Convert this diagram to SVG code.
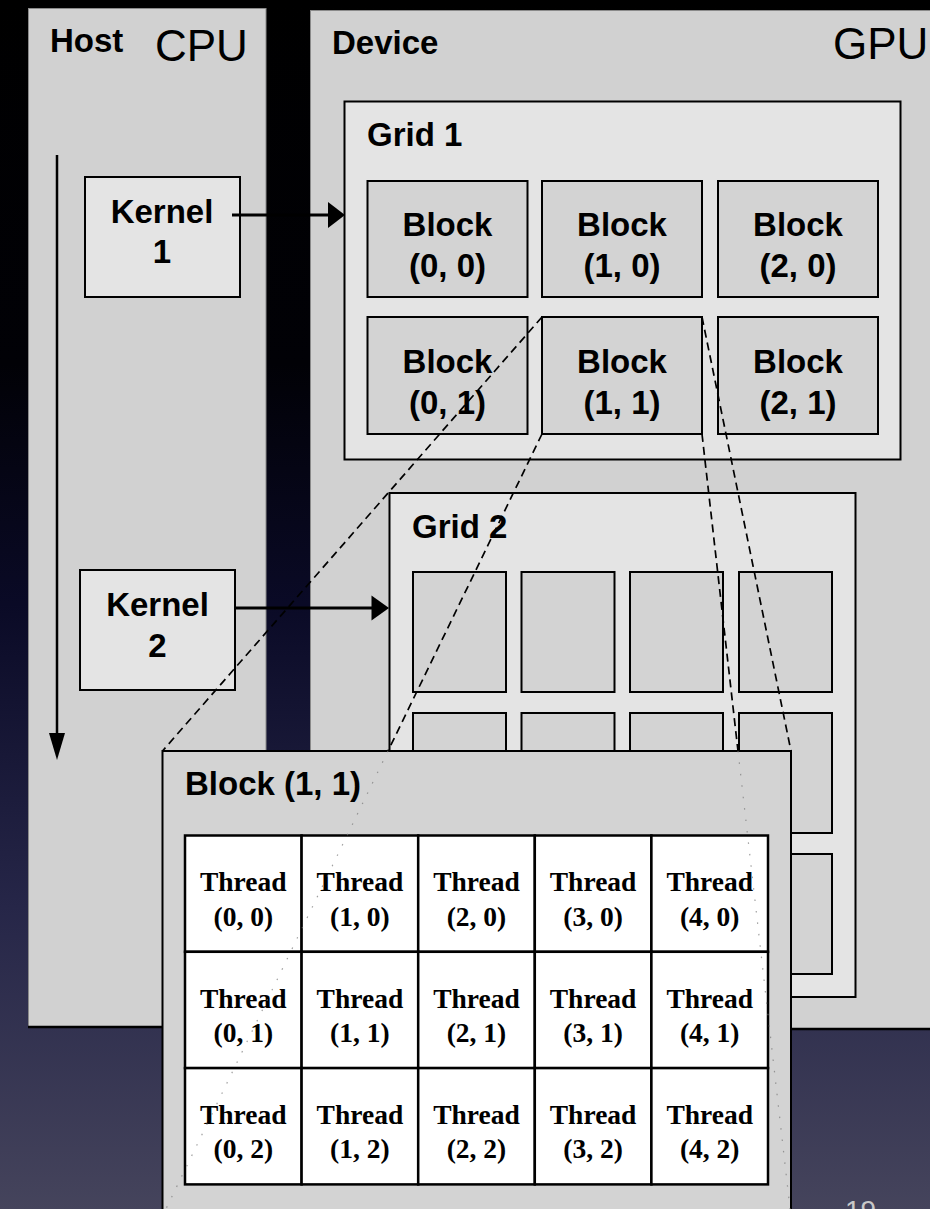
<svg xmlns="http://www.w3.org/2000/svg" width="930" height="1209" viewBox="0 0 930 1209">
<defs>
<linearGradient id="bg" x1="0" y1="0" x2="0" y2="1">
<stop offset="0" stop-color="#000000"/>
<stop offset="0.3" stop-color="#010106"/>
<stop offset="0.5" stop-color="#0a0a26"/>
<stop offset="0.75" stop-color="#262648"/>
<stop offset="1" stop-color="#45445c"/>
</linearGradient>
<style>
.panel{fill:#d1d1d1;stroke:#8a8a8a;stroke-width:1}
.pbot{stroke:#000;stroke-width:2.5}
.grid{fill:#e4e4e4;stroke:#000;stroke-width:2}
.blk{fill:#d3d3d3;stroke:#000;stroke-width:2}
.kern{fill:#e4e4e4;stroke:#000;stroke-width:2}
.cell{fill:#ffffff;stroke:#000;stroke-width:2.5}
.b{font-family:"Liberation Sans",Arial,Helvetica,sans-serif;font-weight:bold;font-size:33px;fill:#000}
.bc{font-family:"Liberation Sans",Arial,Helvetica,sans-serif;font-weight:bold;font-size:33px;fill:#000;text-anchor:middle}
.big{font-family:"Liberation Sans",Arial,Helvetica,sans-serif;font-size:44px;fill:#000}
.t{font-family:"Liberation Serif","Times New Roman",serif;font-weight:bold;font-size:27.5px;fill:#000;text-anchor:middle}
.dash{fill:none;stroke:#000;stroke-width:1.7;stroke-dasharray:8 5}
.faint{fill:none;stroke:#777;stroke-width:1.2;stroke-dasharray:1.5 10;opacity:0.7}
.arr{stroke:#000;stroke-width:3;fill:none}
</style>
</defs>
<rect x="0" y="0" width="930" height="1209" fill="url(#bg)"/>

<g id="host">
<rect class="panel" x="28.5" y="8.5" width="237.5" height="1018.5"/>
<line class="pbot" x1="28" y1="1027" x2="266" y2="1027"/>
<text class="b" x="50" y="52">Host</text>
<text class="big" x="155" y="61">CPU</text>
</g>

<g id="device">
<rect class="panel" x="310.5" y="10.5" width="630" height="1018"/>
<line class="pbot" x1="310" y1="1029" x2="930" y2="1029"/>
<text class="b" x="332" y="54">Device</text>
<text class="big" x="833" y="59">GPU</text>
</g>

<g id="kernel1">
<rect class="kern" x="85" y="177" width="155" height="120"/>
<text class="bc" x="162" y="223">Kernel</text>
<text class="bc" x="162" y="263">1</text>
</g>

<g id="kernel2">
<rect class="kern" x="80" y="570" width="155" height="120"/>
<text class="bc" x="157.5" y="616">Kernel</text>
<text class="bc" x="157.5" y="657">2</text>
</g>

<g id="grid1">
<rect class="grid" x="344.5" y="101.5" width="556" height="358"/>
<text class="b" x="367" y="146">Grid 1</text>
<g id="g1-block-0-0"><rect class="blk" x="367.5" y="181" width="160" height="116"/><text class="bc" x="447.5" y="236">Block</text><text class="bc" x="447.5" y="277">(0, 0)</text></g>
<g id="g1-block-1-0"><rect class="blk" x="542" y="181" width="160" height="116"/><text class="bc" x="622" y="236">Block</text><text class="bc" x="622" y="277">(1, 0)</text></g>
<g id="g1-block-2-0"><rect class="blk" x="718" y="181" width="160" height="116"/><text class="bc" x="798" y="236">Block</text><text class="bc" x="798" y="277">(2, 0)</text></g>
<g id="g1-block-0-1"><rect class="blk" x="367.5" y="317" width="160" height="117"/><text class="bc" x="447.5" y="373">Block</text><text class="bc" x="447.5" y="414">(0, 1)</text></g>
<g id="g1-block-1-1"><rect class="blk" x="542" y="317" width="160" height="117"/><text class="bc" x="622" y="373">Block</text><text class="bc" x="622" y="414">(1, 1)</text></g>
<g id="g1-block-2-1"><rect class="blk" x="718" y="317" width="160" height="117"/><text class="bc" x="798" y="373">Block</text><text class="bc" x="798" y="414">(2, 1)</text></g>
</g>

<g id="grid2">
<rect class="grid" x="389.5" y="493" width="466" height="504"/>
<text class="b" x="412" y="538">Grid 2</text>
<rect class="blk" x="413" y="572" width="93" height="120"/>
<rect class="blk" x="521.5" y="572" width="93" height="120"/>
<rect class="blk" x="630" y="572" width="93" height="120"/>
<rect class="blk" x="739" y="572" width="93" height="120"/>
<rect class="blk" x="413" y="713" width="93" height="120"/>
<rect class="blk" x="521.5" y="713" width="93" height="120"/>
<rect class="blk" x="630" y="713" width="93" height="120"/>
<rect class="blk" x="739" y="713" width="93" height="120"/>
<rect class="blk" x="413" y="854" width="93" height="120"/>
<rect class="blk" x="521.5" y="854" width="93" height="120"/>
<rect class="blk" x="630" y="854" width="93" height="120"/>
<rect class="blk" x="739" y="854" width="93" height="120"/>
</g>

<g id="connectors">
<line class="arr" x1="57" y1="155" x2="57" y2="735" style="stroke-width:2.5"/>
<polygon points="49,733 65,733 57,760" fill="#000"/>
<line class="arr" x1="232" y1="215" x2="330" y2="215"/>
<polygon points="328,202 328,228 345,215" fill="#000"/>
<line class="arr" x1="235" y1="608" x2="373" y2="608"/>
<polygon points="371.5,595.5 371.5,620.5 389,608" fill="#000"/>
<line class="dash" x1="542" y1="317" x2="162.5" y2="751"/>
<line class="dash" x1="542" y1="434" x2="388" y2="751"/>
<line class="dash" x1="702" y1="317" x2="791" y2="751"/>
<line class="dash" x1="702" y1="434" x2="738" y2="751"/>
</g>

<g id="block-1-1-detail">
<rect class="blk" x="162.5" y="751" width="628.5" height="470"/>
<text class="b" x="185" y="795">Block (1, 1)</text>
<g id="threads">
<rect class="cell" x="185" y="835.5" width="116.6" height="116.3"/>
<rect class="cell" x="301.6" y="835.5" width="116.6" height="116.3"/>
<rect class="cell" x="418.2" y="835.5" width="116.6" height="116.3"/>
<rect class="cell" x="534.8" y="835.5" width="116.6" height="116.3"/>
<rect class="cell" x="651.4" y="835.5" width="116.6" height="116.3"/>
<rect class="cell" x="185" y="951.8" width="116.6" height="116.3"/>
<rect class="cell" x="301.6" y="951.8" width="116.6" height="116.3"/>
<rect class="cell" x="418.2" y="951.8" width="116.6" height="116.3"/>
<rect class="cell" x="534.8" y="951.8" width="116.6" height="116.3"/>
<rect class="cell" x="651.4" y="951.8" width="116.6" height="116.3"/>
<rect class="cell" x="185" y="1068.1" width="116.6" height="116.3"/>
<rect class="cell" x="301.6" y="1068.1" width="116.6" height="116.3"/>
<rect class="cell" x="418.2" y="1068.1" width="116.6" height="116.3"/>
<rect class="cell" x="534.8" y="1068.1" width="116.6" height="116.3"/>
<rect class="cell" x="651.4" y="1068.1" width="116.6" height="116.3"/>
<text class="t" x="243.3" y="891">Thread</text><text class="t" x="243.3" y="926">(0, 0)</text>
<text class="t" x="359.9" y="891">Thread</text><text class="t" x="359.9" y="926">(1, 0)</text>
<text class="t" x="476.5" y="891">Thread</text><text class="t" x="476.5" y="926">(2, 0)</text>
<text class="t" x="593.1" y="891">Thread</text><text class="t" x="593.1" y="926">(3, 0)</text>
<text class="t" x="709.7" y="891">Thread</text><text class="t" x="709.7" y="926">(4, 0)</text>
<text class="t" x="243.3" y="1007.5">Thread</text><text class="t" x="243.3" y="1042">(0, 1)</text>
<text class="t" x="359.9" y="1007.5">Thread</text><text class="t" x="359.9" y="1042">(1, 1)</text>
<text class="t" x="476.5" y="1007.5">Thread</text><text class="t" x="476.5" y="1042">(2, 1)</text>
<text class="t" x="593.1" y="1007.5">Thread</text><text class="t" x="593.1" y="1042">(3, 1)</text>
<text class="t" x="709.7" y="1007.5">Thread</text><text class="t" x="709.7" y="1042">(4, 1)</text>
<text class="t" x="243.3" y="1123.5">Thread</text><text class="t" x="243.3" y="1158">(0, 2)</text>
<text class="t" x="359.9" y="1123.5">Thread</text><text class="t" x="359.9" y="1158">(1, 2)</text>
<text class="t" x="476.5" y="1123.5">Thread</text><text class="t" x="476.5" y="1158">(2, 2)</text>
<text class="t" x="593.1" y="1123.5">Thread</text><text class="t" x="593.1" y="1158">(3, 2)</text>
<text class="t" x="709.7" y="1123.5">Thread</text><text class="t" x="709.7" y="1158">(4, 2)</text>
</g>
</g>

<g id="faint-connectors">
<line class="faint" x1="388" y1="751" x2="162.5" y2="1216"/>
<line class="faint" x1="738" y1="751" x2="791" y2="1217"/>
</g>

<text x="845" y="1220" style="font-family:'Liberation Sans',Arial,sans-serif;font-size:28px;fill:#c8c8c8">19</text>
</svg>
